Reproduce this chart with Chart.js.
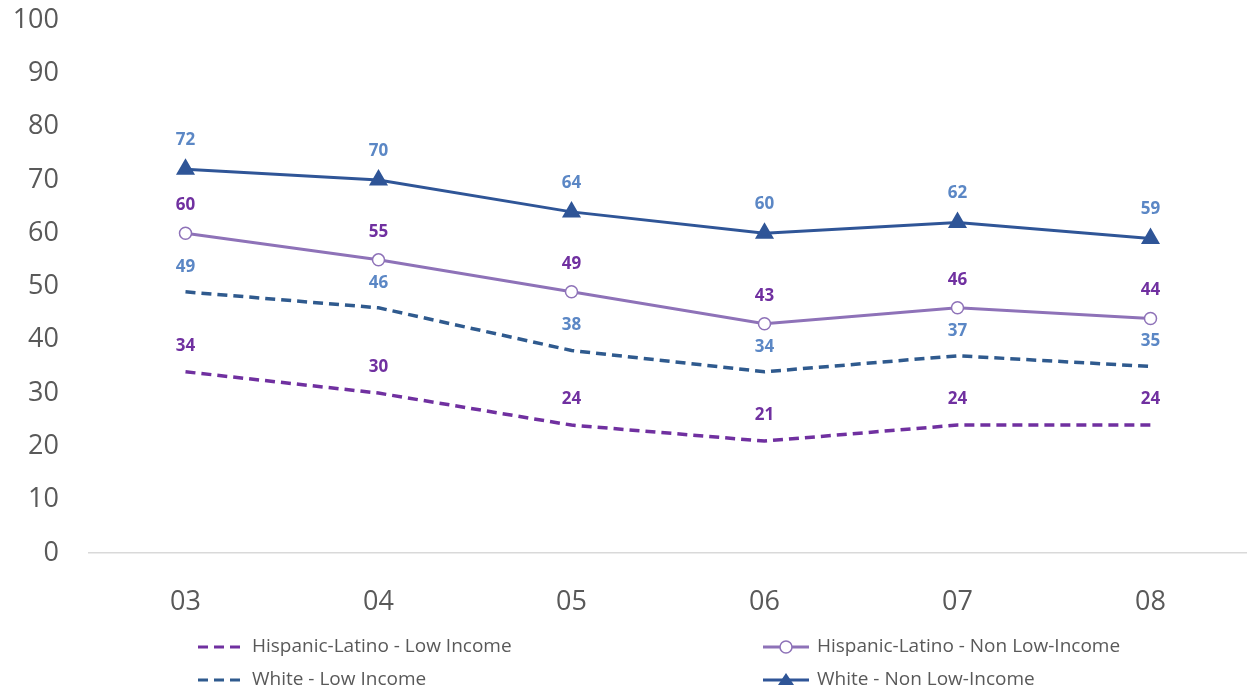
<!DOCTYPE html>
<html>
<head>
<meta charset="utf-8">
<script src="https://cdn.jsdelivr.net/npm/chart.js@4/dist/chart.umd.min.js"></script>
<style>
  html, body { margin: 0; padding: 0; background: #fff; }
  #wrap { width: 1247px; height: 691px; position: relative; }
</style>
</head>
<body>
<div id="wrap"><canvas id="myChart"></canvas></div>
<script>
const labels = ['03', '04', '05', '06', '07', '08'];

const hispLow = [34, 30, 24, 21, 24, 24];
const hispNonLow = [60, 55, 49, 43, 46, 44];
const whiteLow = [49, 46, 38, 34, 37, 35];
const whiteNonLow = [72, 70, 64, 60, 62, 59];

const yTicks = [0, 10, 20, 30, 40, 50, 60, 70, 80, 90, 100];

const purple = '#7030A0';
const lavender = '#8E72B8';
const darkBlue = '#2F5A8E';
const navy = '#2F5597';
const labelBlue = '#5B87C5';

// data labels above each point
const pointLabels = {
    id: 'pointLabels',
    afterDatasetsDraw(chart) {
        const ctx = chart.ctx;
        ctx.save();
        ctx.font = 'bold 17px "Open Sans", sans-serif';
        ctx.textAlign = 'center';
        ctx.textBaseline = 'middle';
        chart.data.datasets.forEach((ds, i) => {
            const meta = chart.getDatasetMeta(i);
            meta.data.forEach((pt, j) => {
                ctx.fillStyle = ds.labelColor;
                ctx.fillText(ds.data[j], pt.x, pt.y - ds.labelOffset);
            });
        });
        ctx.restore();
    }
};

// two-column legend at the bottom
const bottomLegend = {
    id: 'bottomLegend',
    afterDraw(chart) {
        const ctx = chart.ctx;
        const cols = [198, 763];
        const rows = [647, 680];
        ctx.save();
        ctx.font = '19px "Open Sans", sans-serif';
        ctx.textBaseline = 'middle';
        chart.data.datasets.forEach((ds, k) => {
            const x = cols[k % 2];
            const y = rows[Math.floor(k / 2)];
            const len = 46;
            ctx.strokeStyle = ds.borderColor;
            ctx.lineWidth = 3;
            ctx.setLineDash(ds.borderDash || []);
            ctx.beginPath();
            ctx.moveTo(x, y);
            ctx.lineTo(x + len, y);
            ctx.stroke();
            ctx.setLineDash([]);
            if (ds.pointStyle === 'circle') {
                ctx.fillStyle = '#fff';
                ctx.lineWidth = 1.5;
                ctx.beginPath();
                ctx.arc(x + len / 2, y, 6, 0, Math.PI * 2);
                ctx.fill();
                ctx.stroke();
            } else if (ds.pointStyle === 'triangle') {
                ctx.fillStyle = ds.borderColor;
                ctx.beginPath();
                ctx.moveTo(x + len / 2, y - 7);
                ctx.lineTo(x + len / 2 + 8, y + 5);
                ctx.lineTo(x + len / 2 - 8, y + 5);
                ctx.closePath();
                ctx.fill();
            }
            ctx.fillStyle = '#595959';
            ctx.fillText(ds.label, x + len + 8, y);
        });
        ctx.restore();
    }
};

const data = {
    labels: labels,
    datasets: [{
        label: 'Hispanic-Latino - Low Income',
        data: hispLow,
        borderColor: purple,
        borderWidth: 3.5,
        borderDash: [10, 6],
        pointRadius: 0,
        labelColor: purple,
        labelOffset: 26,
    }, {
        label: 'Hispanic-Latino - Non Low-Income',
        data: hispNonLow,
        borderColor: lavender,
        backgroundColor: '#fff',
        borderWidth: 3,
        pointStyle: 'circle',
        pointRadius: 6,
        pointBorderWidth: 1.5,
        pointBackgroundColor: '#fff',
        labelColor: purple,
        labelOffset: 28,
    }, {
        label: 'White - Low Income',
        data: whiteLow,
        borderColor: darkBlue,
        borderWidth: 3.5,
        borderDash: [10, 6],
        pointRadius: 0,
        labelColor: labelBlue,
        labelOffset: 25,
    }, {
        label: 'White - Non Low-Income',
        data: whiteNonLow,
        borderColor: navy,
        backgroundColor: navy,
        borderWidth: 3,
        pointStyle: 'triangle',
        pointRadius: 8,
        pointBackgroundColor: navy,
        labelColor: labelBlue,
        labelOffset: 29,
    }]
};

const config = {
    type: 'line',
    data: data,
    options: {
        responsive: false,
        animation: false,
        layout: { autoPadding: false, padding: { top: 20, right: 0, bottom: 63, left: 0 } },
        plugins: {
            legend: { display: false },
            tooltip: { enabled: false }
        },
        scales: {
            x: {
                offset: true,
                grid: { display: false, drawTicks: false },
                border: { color: '#D9D9D9', width: 1.5 },
                ticks: {
                    color: '#595959',
                    font: { size: 27, family: '"Open Sans", sans-serif' },
                    padding: 33
                },
                afterFit(axis) {
                    axis.height = 75;
                    axis.paddingLeft = 0;
                    axis.paddingRight = 0;
                }
            },
            y: {
                min: 0,
                max: 100,
                afterBuildTicks(axis) { axis.ticks = yTicks.map(v => ({ value: v })); },
                grid: { display: false, drawTicks: false },
                border: { display: false },
                ticks: {
                    color: '#595959',
                    font: { size: 27, family: '"Open Sans", sans-serif' },
                    padding: 30
                },
                afterFit(axis) {
                    axis.width = 89;
                    axis.paddingTop = 0;
                    axis.paddingBottom = 0;
                }
            }
        }
    },
    plugins: [pointLabels, bottomLegend]
};

const canvas = document.getElementById('myChart');
canvas.width = 1247;
canvas.height = 691;
const myChart = new Chart(canvas, config);
</script>
</body>
</html>
